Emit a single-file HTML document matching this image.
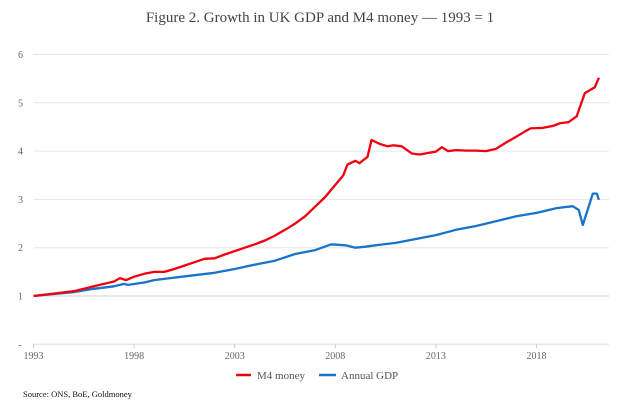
<!DOCTYPE html>
<html><head><meta charset="utf-8"><style>
body{margin:0;background:#fff;font-family:"Liberation Serif",serif;}
svg text{font-family:"Liberation Serif",serif;}
</style></head><body>
<svg width="620" height="403" viewBox="0 0 620 403">
<text x="320" y="22" text-anchor="middle" font-size="15" fill="#444">Figure 2. Growth in UK GDP and M4 money — 1993 = 1</text>
<g id="grid"></g><g id="axes"></g><g id="series"></g>
<g>
<line x1="236" y1="375" x2="251" y2="375" stroke="#f0000f" stroke-width="2.5"/>
<text x="257" y="379" font-size="11" fill="#555">M4 money</text>
<line x1="319" y1="375" x2="336" y2="375" stroke="#1874c8" stroke-width="2.5"/>
<text x="341" y="379" font-size="11" fill="#555">Annual GDP</text>
</g>
<text x="23" y="397" font-size="8.5" fill="#111">Source: ONS, BoE, Goldmoney</text>
</svg>
<script>
const yTicks=[0,1,2,3,4,5,6];
const yTickLabels=["-","1","2","3","4","5","6"];
const xTicks=[1993,1998,2003,2008,2013,2018];
const m4Years=[1993,1994,1995,1996,1996.5,1997,1997.3,1997.6,1998,1998.5,1999,1999.5,2000,2000.5,2001,2001.5,2002,2002.5,2003,2003.5,2004,2004.5,2005,2005.5,2006,2006.5,2007,2007.5,2008,2008.4,2008.6,2009,2009.2,2009.6,2009.8,2010.2,2010.6,2010.9,2011.3,2011.8,2012.2,2012.6,2013,2013.3,2013.6,2014,2014.5,2015,2015.5,2016,2016.5,2017,2017.4,2017.7,2018.3,2018.8,2019.2,2019.6,2020,2020.4,2020.9,2021.1];
const m4Values=[1.0,1.05,1.1,1.2,1.25,1.3,1.37,1.33,1.4,1.46,1.5,1.5,1.56,1.63,1.7,1.77,1.78,1.86,1.93,2.0,2.07,2.15,2.25,2.37,2.5,2.65,2.85,3.05,3.3,3.5,3.72,3.8,3.75,3.88,4.23,4.15,4.1,4.12,4.1,3.95,3.93,3.96,3.99,4.08,4.0,4.02,4.01,4.01,4.0,4.05,4.18,4.3,4.4,4.47,4.48,4.52,4.58,4.6,4.72,5.2,5.32,5.52];
const gdpYears=[1993,1995,1996,1997,1997.5,1997.7,1998.5,1999,2000,2001,2002,2003,2004,2005,2006,2007,2007.8,2008.5,2009,2009.5,2010,2011,2012,2013,2014,2015,2016,2017,2018,2019,2019.8,2020.1,2020.3,2020.8,2021.0,2021.1];
const gdpValues=[1,1.08,1.15,1.2,1.25,1.23,1.28,1.33,1.38,1.43,1.48,1.56,1.65,1.73,1.87,1.95,2.07,2.05,2.0,2.02,2.05,2.1,2.18,2.26,2.37,2.45,2.55,2.65,2.72,2.82,2.86,2.78,2.47,3.12,3.12,2.99];
const NS="http://www.w3.org/2000/svg";
const x=v=>33.5+(v-1993)*20.12;
const y=v=>344.3-v*48.3;
const grid=document.getElementById('grid'),axes=document.getElementById('axes'),series=document.getElementById('series');
yTicks.forEach((t,i)=>{
 if(t>0){const l=document.createElementNS(NS,'line');
 l.setAttribute('x1',33.5);l.setAttribute('x2',609);l.setAttribute('y1',y(t));l.setAttribute('y2',y(t));
 l.setAttribute('stroke',t==1?'#e0e0e0':'#e6e6e6');l.setAttribute('stroke-width',t==1?1.5:1);
 
 
 grid.appendChild(l);}
 const tx=document.createElementNS(NS,'text');
 tx.setAttribute('x',18);tx.setAttribute('y',y(t)+3.5);tx.setAttribute('font-size','10');tx.setAttribute('fill','#666');
 tx.textContent=yTickLabels[i];
 
 
 axes.appendChild(tx);
});
const ax=document.createElementNS(NS,'line');
ax.setAttribute('x1',33.5);ax.setAttribute('x2',609);ax.setAttribute('y1',344.3);ax.setAttribute('y2',344.3);ax.setAttribute('stroke','#ddd');


axes.appendChild(ax);
xTicks.forEach(t=>{
 const tk=document.createElementNS(NS,'line');
 tk.setAttribute('x1',x(t));tk.setAttribute('x2',x(t));tk.setAttribute('y1',344.3);tk.setAttribute('y2',348);tk.setAttribute('stroke','#ccc');
 
 
 axes.appendChild(tk);
 const tx=document.createElementNS(NS,'text');
 tx.setAttribute('x',x(t));tx.setAttribute('y',359);tx.setAttribute('text-anchor','middle');tx.setAttribute('font-size','10');tx.setAttribute('fill','#666');
 tx.textContent=t;
 
 
 axes.appendChild(tx);
});
function line(xs,vs,color,name){
 const p=document.createElementNS(NS,'polyline');
 p.setAttribute('points',xs.map((t,i)=>x(t).toFixed(1)+','+y(vs[i]).toFixed(1)).join(' '));
 p.setAttribute('fill','none');p.setAttribute('stroke',color);p.setAttribute('stroke-width','2.3');p.setAttribute('stroke-linejoin','round');
 
 
 series.appendChild(p);
}
line(gdpYears,gdpValues,'#1874c8','gdp-line');
line(m4Years,m4Values,'#f0000f','m4-line');
</script>
</body></html>
